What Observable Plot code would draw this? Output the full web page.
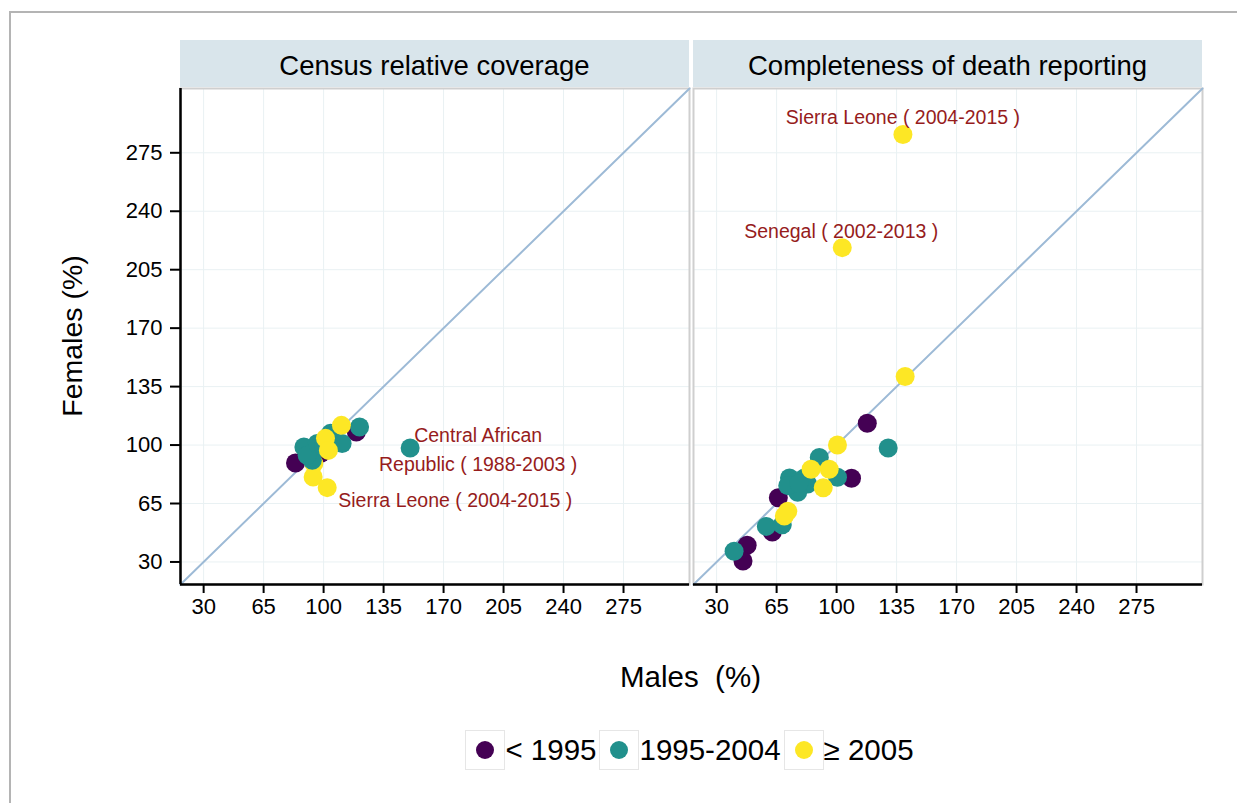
<!DOCTYPE html>
<html>
<head>
<meta charset="utf-8">
<script src="https://cdn.jsdelivr.net/npm/d3@7"></script>
<script src="https://cdn.jsdelivr.net/npm/@observablehq/plot@0.6"></script>
<style>
  body { margin: 0; background: #fff; font-family: "Liberation Sans", Arial, Helvetica, sans-serif; }
  #wrap { position: relative; width: 1237px; height: 803px; overflow: hidden; }
  #border { position: absolute; left: 9px; top: 11px; right: -10px; bottom: -10px; border-left: 2px solid #b4b4b4; border-top: 2px solid #b4b4b4; pointer-events: none; }
  #legend { display: flex; justify-content: center; align-items: center; padding-left: 145px; margin-top: 30px; height: 40px; }
  .item { display: flex; align-items: center; margin-right: 3px; }
  .box { width: 40px; height: 40px; box-sizing: border-box; border: 1px solid #e6e6e6; display: flex; align-items: center; justify-content: center; }
  .dot { width: 18px; height: 18px; border-radius: 50%; }
  .lab { font-size: 29.5px; color: #000; line-height: 40px; }
</style>
</head>
<body>
<div id="wrap">
  <div id="border"></div>
  <div id="chart"></div>
  <div id="legend"></div>
</div>
<script>
// ---------- data ----------
const panels = ["Census relative coverage", "Completeness of death reporting"];
const periods = ["< 1995", "1995-2004", "≥ 2005"];
const periodColors = ["#440154", "#21908C", "#FDE725"];
const axisRange = [16.5, 313.5];
const tickValues = [30, 65, 100, 135, 170, 205, 240, 275];

// Census relative coverage (males %, females %, period)
const censusMales   = [83.6, 98.2, 104, 119.1, 99.2, 94.3, 93.9, 102.1, 88.5, 93.4, 90.4, 96.3, 104, 110.8, 121.0, 150.5, 100, 110.4, 101.1, 102.8];
const censusFemales = [89.2, 94.9, 101.8, 107.8, 96.8, 88.9, 80.9, 74.5, 98.8, 90.9, 93.9, 100.9, 107, 100.9, 110.8, 98.2, 99, 111.8, 104, 96.8];
const censusPeriod  = ["< 1995", "< 1995", "< 1995", "< 1995", "< 1995",
  "≥ 2005", "≥ 2005", "≥ 2005",
  "1995-2004", "1995-2004", "1995-2004", "1995-2004", "1995-2004", "1995-2004", "1995-2004", "1995-2004", "1995-2004",
  "≥ 2005", "≥ 2005", "≥ 2005"];

// Completeness of death reporting
const deathMales   = [117.9, 108.7, 66, 62.5, 47.8, 45.4, 130.1, 89.9, 100.5, 72.5, 81.2, 83.1, 77.3, 71.5, 78, 59, 68.3, 40.2, 100.5, 85.1, 95.7, 92.2, 71.5, 69.5, 103.3, 138.7, 140];
const deathFemales = [113.1, 80.1, 68.4, 47.9, 40, 30.6, 98.2, 92.6, 80.7, 80.3, 80.3, 76.7, 71.7, 75.7, 77, 51.3, 52.3, 36.4, 100, 85.5, 85.5, 74.4, 60.4, 57.5, 218.2, 286, 141.1];
const deathPeriod  = ["< 1995", "< 1995", "< 1995", "< 1995", "< 1995", "< 1995",
  "1995-2004", "1995-2004", "1995-2004", "1995-2004", "1995-2004", "1995-2004", "1995-2004", "1995-2004", "1995-2004", "1995-2004", "1995-2004", "1995-2004",
  "≥ 2005", "≥ 2005", "≥ 2005", "≥ 2005", "≥ 2005", "≥ 2005", "≥ 2005", "≥ 2005", "≥ 2005"];

// Point labels
const labelPanel   = [panels[0], panels[0], panels[1], panels[1]];
const labelText    = ["Central African\nRepublic ( 1988-2003 )", "Sierra Leone ( 2004-2015 )", "Sierra Leone ( 2004-2015 )", "Senegal ( 2002-2013 )"];
const labelMales   = [150.5, 102.1, 138.7, 103.3];
const labelFemales = [98.2, 74.5, 286, 218.2];

// ---------- tables ----------
const points = [
  ...censusMales.map((m, i) => ({panel: panels[0], males: m, females: censusFemales[i], period: censusPeriod[i]})),
  ...deathMales.map((m, i) => ({panel: panels[1], males: m, females: deathFemales[i], period: deathPeriod[i]}))
];
const labels = labelText.map((t, i) => ({panel: labelPanel[i], text: t, males: labelMales[i], females: labelFemales[i]}));
const diagonal = axisRange.map(v => ({males: v, females: v}));
const leftEdge = [{panel: panels[0], males: axisRange[0]}];

const labelColor = "#961c1c";
const textMark = (i, opts) => Plot.text([labels[i]], {x: "males", y: "females", fx: "panel", text: "text",
  fill: labelColor, fontSize: 19.5, lineHeight: 1.5, ...opts});

const chart = Plot.plot({
  width: 1237,
  height: 700,
  marginLeft: 179,
  marginRight: 35,
  marginTop: 88,
  marginBottom: 116,
  style: {fontFamily: "'Liberation Sans', Arial, Helvetica, sans-serif", fontSize: "21px", color: "#000", background: "transparent"},
  x: {domain: axisRange, label: null, axis: null},
  y: {domain: axisRange, label: null, axis: null},
  fx: {domain: panels, paddingInner: 0.008, paddingOuter: 0, label: null, axis: null},
  color: {domain: periods, range: periodColors},
  marks: [
    Plot.gridX(tickValues, {stroke: "#e9f1f3", strokeOpacity: 1, strokeWidth: 1}),
    Plot.gridY(tickValues, {stroke: "#e9f1f3", strokeOpacity: 1, strokeWidth: 1}),
    Plot.frame({stroke: "#cfcfcf", strokeWidth: 2}),
    Plot.line(diagonal, {x: "males", y: "females", stroke: "#9dbad6", strokeWidth: 2}),
    Plot.ruleY([axisRange[0]], {stroke: "#000", strokeWidth: 2.5}),
    Plot.ruleX(leftEdge, {x: "males", fx: "panel", stroke: "#000", strokeWidth: 2.5}),
    Plot.axisX({ticks: tickValues, tickSize: 9, tickPadding: 5, strokeWidth: 2, stroke: "#000", fontSize: 22, label: null}),
    Plot.axisY({ticks: tickValues, tickSize: 10, tickPadding: 8, strokeWidth: 2, stroke: "#000", fontSize: 22, label: null}),
    Plot.dot(points, {x: "males", y: "females", fx: "panel", fill: "period", r: 9.5, stroke: "none"}),
    textMark(0, {textAnchor: "middle", dx: 68, dy: -1}),
    textMark(1, {textAnchor: "start", dx: 11, dy: 10}),
    textMark(2, {textAnchor: "middle", dx: 0, dy: -20}),
    textMark(3, {textAnchor: "middle", dx: -1, dy: -19})
  ]
});

document.getElementById("chart").appendChild(chart);

// strip headers and axis titles
const svg = d3.select(chart);
const fx = chart.scale("fx");
const stripGroup = svg.append("g");
panels.forEach(p => {
  const x0 = fx.apply(p);
  stripGroup.append("rect")
    .attr("x", x0).attr("y", 40).attr("width", fx.bandwidth).attr("height", 47)
    .attr("fill", "#d9e5eb");
  stripGroup.append("text")
    .attr("x", x0 + fx.bandwidth / 2).attr("y", 65)
    .attr("text-anchor", "middle").attr("dominant-baseline", "central")
    .attr("font-size", 27.5).attr("fill", "#000")
    .text(p);
});
svg.append("text")
  .attr("x", (179 + 1202) / 2).attr("y", 676)
  .attr("text-anchor", "middle").attr("dominant-baseline", "central")
  .attr("font-size", 29.5).attr("fill", "#000")
  .style("white-space", "pre")
  .text("Males  (%)");
svg.append("text")
  .attr("transform", "translate(72,336) rotate(-90)")
  .attr("text-anchor", "middle").attr("dominant-baseline", "central")
  .attr("font-size", 28.5).attr("fill", "#000")
  .text("Females (%)");

// legend
const legend = d3.select("#legend");
periods.forEach((p, i) => {
  const item = legend.append("div").attr("class", "item");
  item.append("div").attr("class", "box").append("div").attr("class", "dot").style("background", periodColors[i]);
  item.append("span").attr("class", "lab").text(p);
});
</script>
</body>
</html>
